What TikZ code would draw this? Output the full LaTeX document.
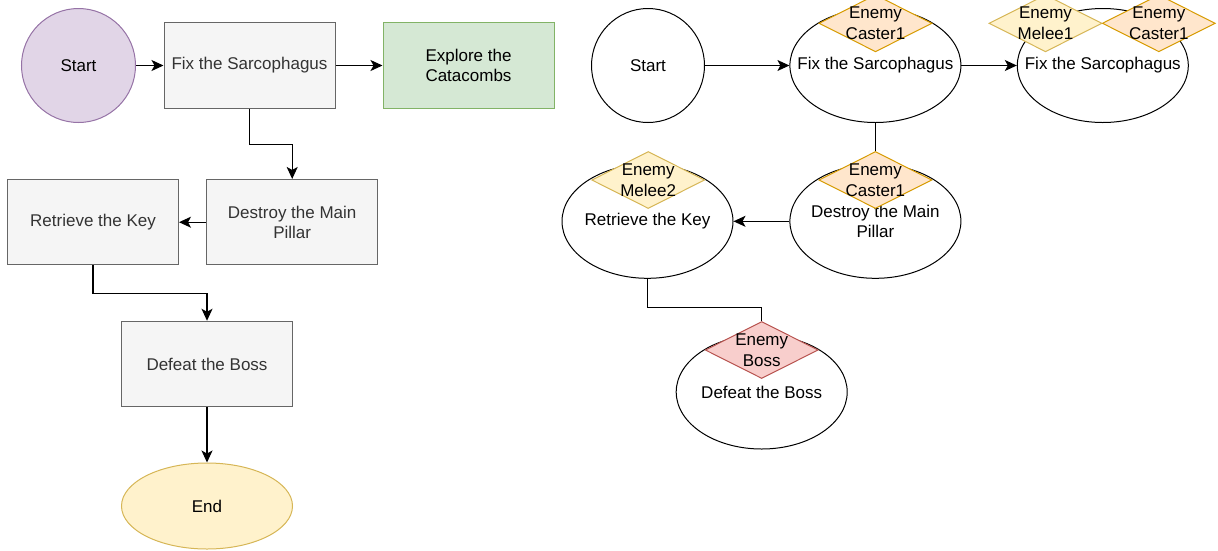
\documentclass[tikz,border=0pt]{standalone}
\usepackage{fontspec}
\setmainfont{Liberation Sans}
\usetikzlibrary{shapes.geometric,arrows.meta}
\definecolor{purplefill}{HTML}{E1D5E7}
\definecolor{purpleline}{HTML}{9673A6}
\definecolor{grayfill}{HTML}{F5F5F5}
\definecolor{grayline}{HTML}{666666}
\definecolor{graytext}{HTML}{333333}
\definecolor{greenfill}{HTML}{D5E8D4}
\definecolor{greenline}{HTML}{82B366}
\definecolor{yellowfill}{HTML}{FFF2CC}
\definecolor{yellowline}{HTML}{D6B656}
\definecolor{orangefill}{HTML}{FFE6CC}
\definecolor{orangeline}{HTML}{D79B00}
\definecolor{redfill}{HTML}{F8CECC}
\definecolor{redline}{HTML}{B85450}

\begin{document}
\begin{tikzpicture}[x=1pt,y=-1pt]
        % Définition des styles
        \tikzset{
            every node/.style={font=\fontsize{17}{20.5}\selectfont},
            startnode/.style={circle, draw=purpleline, fill=purplefill, line width=1pt,
                         minimum size=114pt, inner sep=0pt},
            block/.style={rectangle, draw=grayline, fill=grayfill, text=graytext, line width=1pt,
                         minimum width=171pt, minimum height=85.5pt, inner sep=0pt, align=center},
            goalblock/.style={block, draw=greenline, fill=greenfill, text=black},
            endnode/.style={ellipse, draw=yellowline, fill=yellowfill, line width=1pt,
                         minimum width=171pt, minimum height=86pt, inner sep=0pt},
            state/.style={ellipse, draw=black, fill=white, line width=1pt,
                         minimum width=171pt, minimum height=114pt, inner sep=0pt},
            enemy/.style={diamond, line width=1pt, minimum width=113pt, minimum height=57pt, inner sep=0pt},
            caster/.style={enemy, draw=orangeline, fill=orangefill},
            melee/.style={enemy, draw=yellowline, fill=yellowfill},
            boss/.style={enemy, draw=redline, fill=redfill},
            flow/.style={-{Stealth[length=12pt,width=11pt,inset=3pt]}, line width=1.1pt},
            link/.style={line width=1.1pt}
        }
        \useasboundingbox (0,0) rectangle (1218,550);

        % Quêtes (gauche)
        \node[startnode] (startL) at (78.5,65.5) {Start};
        \node[block] (fixL) at (249.5,65.5) {Fix the Sarcophagus};
        \node[goalblock] (exploreL) at (468.5,65.5) {Explore the\\Catacombs};
        \node[block] (destroyL) at (292.2,222.2) {Destroy the Main\\Pillar};
        \node[block] (retrieveL) at (93,222.2) {Retrieve the Key};
        \node[block] (defeatL) at (207,364) {Defeat the Boss};
        \node[endnode] (endL) at (207,506) {End};

        % Connexions (gauche)
        \draw[flow] (startL) -- (fixL);
        \draw[flow] (fixL) -- (exploreL);
        \draw[flow] (fixL.south) -- ++(0,36) -| (destroyL.north);
        \draw[flow] (destroyL) -- (retrieveL);
        \draw[flow] (retrieveL.south) -- ++(0,28.3) -| (defeatL.north);
        \draw[flow] (defeatL) -- (endL);

        % Etats (droite)
        \node[state, minimum width=113pt, label=center:Start] (startR) at (648,65.5) {};
        \node[state, label=center:Fix the Sarcophagus] (fixR) at (875.4,65.5) {};
        \node[state, label=center:Fix the Sarcophagus] (fixRb) at (1102.8,65.5) {};
        \node[state, label={[align=center]center:{Destroy the Main\\Pillar}}] (destroyR) at (875.4,221.3) {};
        \node[state, label=center:Retrieve the Key] (retrieveR) at (647.5,221.3) {};
        \node[state, label=center:Defeat the Boss] (defeatR) at (761.7,392) {};

        % Ennemis
        \node[caster, label={[align=center]center:{Enemy\\Caster1}}] (casterA) at (875.5,23.3) {};
        \node[melee, label={[align=center]center:{Enemy\\Melee1}}] (meleeA) at (1045.5,23.3) {};
        \node[caster, label={[align=center]center:{Enemy\\Caster1}}] (casterB) at (1158.8,23.3) {};
        \node[caster, label={[align=center]center:{Enemy\\Caster1}}] (casterC) at (875.4,180) {};
        \node[melee, label={[align=center]center:{Enemy\\Melee2}}] (meleeB) at (648.2,180) {};
        \node[boss, label={[align=center]center:{Enemy\\Boss}}] (bossA) at (761.7,350) {};

        % Connexions (droite)
        \draw[flow] (startR) -- (fixR);
        \draw[flow] (fixR) -- (fixRb);
        \draw[link] (fixR.south) -- (casterC.north);
        \draw[flow] (destroyR) -- (retrieveR);
        \draw[link] (retrieveR.south) -- ++(0,29) -| (bossA.north);
    \end{tikzpicture}
\end{document}
